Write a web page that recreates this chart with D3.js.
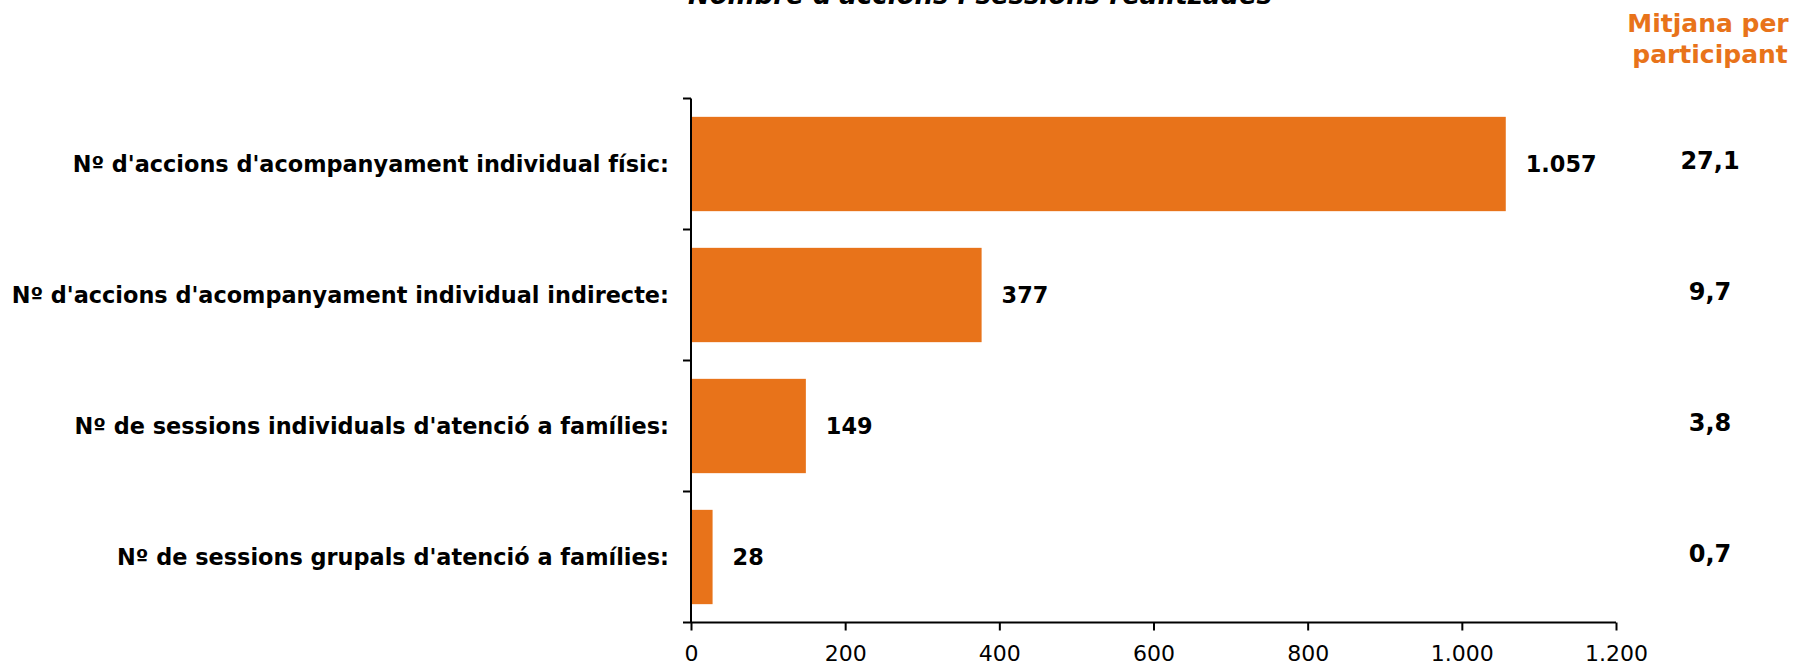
<!DOCTYPE html>
<html>
<head>
<meta charset="utf-8">
<script src="https://cdn.jsdelivr.net/npm/d3@7"></script>
<style>
  body { margin: 0; background: #fff; }
  svg { display: block; font-family: Verdana, "DejaVu Sans", sans-serif; }
</style>
</head>
<body>
<div id="chart"></div>
<script>
const WIDTH = 1797
const HEIGHT = 664
const ORANGE = '#E8731A'

const categories = [
    "Nº d'accions d'acompanyament individual físic:",
    "Nº d'accions d'acompanyament individual indirecte:",
    "Nº de sessions individuals d'atenció a famílies:",
    "Nº de sessions grupals d'atenció a famílies:"
]
const values = [1057, 377, 149, 28]
const averages = [27.1, 9.7, 3.8, 0.7]
const xTicks = [0, 200, 400, 600, 800, 1000, 1200]

const locale = d3.formatLocale({decimal: ',', thousands: '.', grouping: [3], currency: ['', '€']})
const fmtInt = locale.format(',d')
const fmtAvg = locale.format(',.1f')

const svg = d3.select('#chart').append('svg').attr('width', WIDTH).attr('height', HEIGHT)

const x = d3.scaleLinear().domain([0, 1200]).range([691, 1616])
const y = d3.scaleBand().domain(categories).range([98.5, 622.5])
    .paddingInner(0.28).paddingOuter(0.14)

// title (cut by the top edge in the original)
svg.append('text')
    .attr('x', 980).attr('y', 4)
    .attr('text-anchor', 'middle')
    .attr('font-size', 26).attr('font-weight', 'bold').attr('font-style', 'italic')
    .text("Nombre d'accions i sessions realitzades")

// bars
svg.append('g').selectAll('rect')
    .data(values)
    .enter()
    .append('rect')
    .attr('x', x(0))
    .attr('y', (d, i) => y(categories[i]))
    .attr('width', d => x(d) - x(0))
    .attr('height', y.bandwidth())
    .attr('fill', ORANGE)

// x axis
const xAxis = svg.append('g')
    .attr('transform', `translate(0,${y.range()[1]})`)
    .call(d3.axisBottom(x).tickValues(xTicks).tickFormat(fmtInt).tickSizeOuter(0).tickSize(8).tickPadding(15))
xAxis.select('.domain').attr('stroke', '#000').attr('stroke-width', 2)
    .attr('d', `M${x(0) - 8},0H${x(1200)}`)
xAxis.selectAll('.tick line').attr('stroke', '#000').attr('stroke-width', 2)
xAxis.selectAll('.tick text').attr('font-size', 22).attr('font-family', 'Verdana, "DejaVu Sans", sans-serif').attr('fill', '#000')

// y axis with ticks on the band boundaries
const yAxis = svg.append('g')
yAxis.append('line')
    .attr('x1', x(0)).attr('x2', x(0))
    .attr('y1', y.range()[0]).attr('y2', y.range()[1])
    .attr('stroke', '#000').attr('stroke-width', 2)
const bounds = categories.map(c => y(c) - y.step() * y.paddingOuter())
yAxis.selectAll('.ytick')
    .data(bounds)
    .enter()
    .append('line')
    .attr('x1', x(0) - 8).attr('x2', x(0))
    .attr('y1', d => d).attr('y2', d => d)
    .attr('stroke', '#000').attr('stroke-width', 2)

// category labels
svg.append('g').selectAll('text')
    .data(categories)
    .enter()
    .append('text')
    .attr('x', 669)
    .attr('y', d => y(d) + y.bandwidth() / 2)
    .attr('dy', '0.36em')
    .attr('text-anchor', 'end')
    .attr('font-size', 22.4).attr('font-weight', 'bold')
    .text(d => d)

// value labels
svg.append('g').selectAll('text')
    .data(values)
    .enter()
    .append('text')
    .attr('x', d => x(d) + 20)
    .attr('y', (d, i) => y(categories[i]) + y.bandwidth() / 2)
    .attr('dy', '0.36em')
    .attr('font-size', 22.4).attr('font-weight', 'bold')
    .text(d => fmtInt(d))

// average column
const header = svg.append('text')
    .attr('x', 1708).attr('text-anchor', 'middle')
    .attr('font-size', 25).attr('font-weight', 'bold').attr('fill', ORANGE)
header.append('tspan').attr('x', 1708).attr('y', 32).text('Mitjana per')
header.append('tspan').attr('x', 1710).attr('y', 63).text('participant')

svg.append('g').selectAll('text')
    .data(averages)
    .enter()
    .append('text')
    .attr('x', 1710)
    .attr('y', (d, i) => y(categories[i]) + y.bandwidth() / 2 - 4)
    .attr('dy', '0.36em')
    .attr('text-anchor', 'middle')
    .attr('font-size', 24).attr('font-weight', 'bold')
    .text(d => fmtAvg(d))
</script>
</body>
</html>
